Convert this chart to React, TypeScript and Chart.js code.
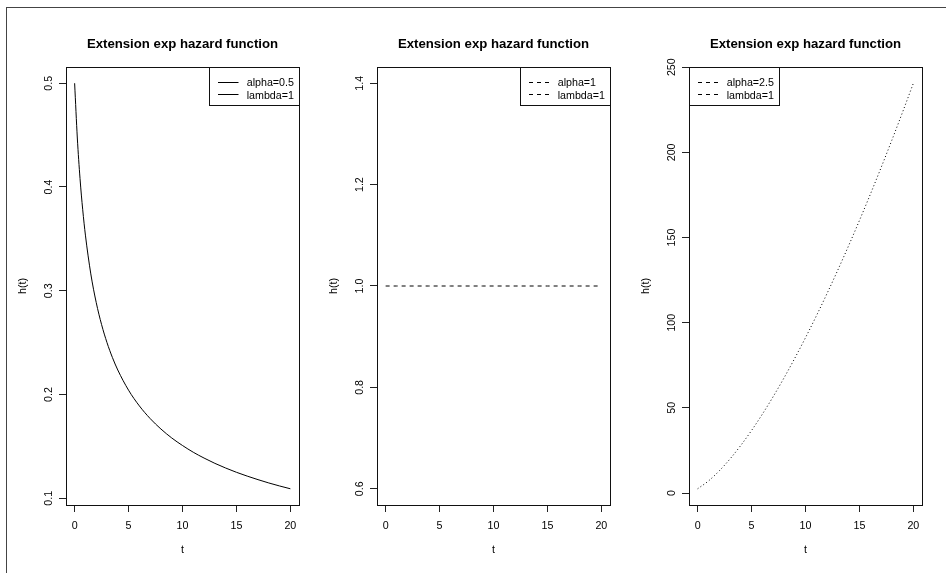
import React, { useEffect, useRef } from 'react';
import { Chart, registerables } from 'chart.js';

Chart.register(...registerables);

const FONT = '"Liberation Sans", Arial, Helvetica, sans-serif';
const TITLE = 'Extension exp hazard function';
const X_LABEL = 't';
const Y_LABEL = 'h(t)';

// Time grid for the decreasing hazard (denser near t = 0 where it drops fast)
const T_FINE = [0, 0.25, 0.5, 0.75, 1, 1.5, 2, 2.5, 3, 3.5, 4, 5, 6, 7, 8, 9, 10, 11, 12, 13, 14, 15, 16, 17, 18, 19, 20];
const H_ALPHA_05 = [
  0.5, 0.4472, 0.4082, 0.378, 0.3536, 0.3162, 0.2887, 0.2673, 0.25, 0.2357, 0.2236,
  0.2041, 0.189, 0.1768, 0.1667, 0.1581, 0.1508, 0.1443, 0.1387, 0.1336, 0.1291,
  0.125, 0.1213, 0.1179, 0.1147, 0.1118, 0.1091,
];

// Integer time grid for the constant and increasing hazards
const T_INT = [0, 1, 2, 3, 4, 5, 6, 7, 8, 9, 10, 11, 12, 13, 14, 15, 16, 17, 18, 19, 20];
const H_ALPHA_1 = [1, 1, 1, 1, 1, 1, 1, 1, 1, 1, 1, 1, 1, 1, 1, 1, 1, 1, 1, 1, 1];
const H_ALPHA_25 = [
  2.5, 7.07, 12.99, 20, 27.95, 36.74, 46.3, 56.57, 67.5, 79.06, 91.21, 103.92,
  117.18, 130.96, 145.24, 160, 175.23, 190.92, 207.05, 223.61, 240.58,
];

const X_TICKS = [0, 5, 10, 15, 20];
const Y_TICKS_1 = ['0.1', '0.2', '0.3', '0.4', '0.5'];
const Y_TICKS_2 = ['0.6', '0.8', '1.0', '1.2', '1.4'];
const Y_TICKS_3 = ['0', '50', '100', '150', '200', '250'];

const LEGEND_1 = ['alpha=0.5', 'lambda=1'];
const LEGEND_2 = ['alpha=1', 'lambda=1'];
const LEGEND_3 = ['alpha=2.5', 'lambda=1'];

// Base-graphics style axis range: data range widened by 4% on each side
function axisRange(values: number[]): [number, number] {
  let lo = Math.min(...values);
  let hi = Math.max(...values);
  if (hi === lo) {
    const d = Math.abs(lo) * 0.4 || 1;
    lo -= d;
    hi += d;
  }
  const pad = (hi - lo) * 0.04;
  return [lo - pad, hi + pad];
}

type PanelSpec = {
  t: number[];
  h: number[];
  dash: number[];
  legendDash: number[];
  legend: string[];
  legendSide: 'left' | 'right';
  yTicks: string[];
};

const PANELS: PanelSpec[] = [
  { t: T_FINE, h: H_ALPHA_05, dash: [], legendDash: [], legend: LEGEND_1, legendSide: 'right', yTicks: Y_TICKS_1 },
  { t: T_INT, h: H_ALPHA_1, dash: [4, 4], legendDash: [4, 4], legend: LEGEND_2, legendSide: 'right', yTicks: Y_TICKS_2 },
  { t: T_INT, h: H_ALPHA_25, dash: [1, 2.5], legendDash: [4, 4], legend: LEGEND_3, legendSide: 'left', yTicks: Y_TICKS_3 },
];

const CANVAS_W = 311;
const CANVAS_H = 573;
const PANEL_LEFTS = [0, 311, 623];

function Panel({ spec, left }: { spec: PanelSpec; left: number }) {
  const ref = useRef<HTMLCanvasElement>(null);

  useEffect(() => {
    if (!ref.current) return;
    const [xMin, xMax] = axisRange(spec.t);
    const [yMin, yMax] = axisRange(spec.h);
    const yTickValues = spec.yTicks.map(Number);

    const framePlugin = {
      id: 'frame',
      afterDraw(chart: any) {
        const { ctx, chartArea: a } = chart;
        ctx.save();

        // plot box
        ctx.strokeStyle = '#111';
        ctx.lineWidth = 1;
        ctx.setLineDash([]);
        const bx = Math.round(a.left) + 0.5;
        const by = Math.round(a.top) + 0.5;
        const bw = Math.round(a.right) - Math.round(a.left);
        const bh = Math.round(a.bottom) - Math.round(a.top);
        ctx.strokeRect(bx, by, bw, bh);

        // main title
        ctx.fillStyle = '#000';
        ctx.font = `bold 13.2px ${FONT}`;
        ctx.textAlign = 'center';
        ctx.textBaseline = 'alphabetic';
        ctx.fillText(TITLE, (a.left + a.right) / 2, a.top - 18.7);

        // y tick labels, written upward like base graphics
        const ys = chart.scales.y;
        ctx.font = `10.7px ${FONT}`;
        ys.ticks.forEach((tk: any) => {
          const i = yTickValues.indexOf(tk.value);
          const text = i >= 0 ? spec.yTicks[i] : String(tk.value);
          const py = ys.getPixelForValue(tk.value);
          ctx.save();
          ctx.translate(a.left - 14.5, py);
          ctx.rotate(-Math.PI / 2);
          ctx.textAlign = 'center';
          ctx.textBaseline = 'alphabetic';
          ctx.fillText(text, 0, 0);
          ctx.restore();
        });

        // legend
        const lw = 90;
        const lh = 38;
        const lx = spec.legendSide === 'right' ? Math.round(a.right) - lw : Math.round(a.left);
        const ly = Math.round(a.top);
        ctx.fillStyle = '#fff';
        ctx.fillRect(lx + 0.5, ly + 0.5, lw, lh);
        ctx.strokeStyle = '#111';
        ctx.strokeRect(lx + 0.5, ly + 0.5, lw, lh);
        const rows = [14.7, 27.3];
        spec.legend.forEach((label, k) => {
          const ry = ly + rows[k];
          ctx.strokeStyle = '#000';
          ctx.setLineDash(spec.legendDash);
          ctx.beginPath();
          ctx.moveTo(lx + 9, Math.round(ry) + 0.5);
          ctx.lineTo(lx + 29.5, Math.round(ry) + 0.5);
          ctx.stroke();
          ctx.setLineDash([]);
          ctx.fillStyle = '#000';
          ctx.font = `10.7px ${FONT}`;
          ctx.textAlign = 'left';
          ctx.textBaseline = 'alphabetic';
          ctx.fillText(label, lx + 37.7, ry + 4.6);
        });

        ctx.restore();
      },
    };

    const chart = new Chart(ref.current, {
      type: 'line',
      data: {
        datasets: [
          {
            data: spec.t.map((t, i) => ({ x: t, y: spec.h[i] })),
            borderColor: '#000',
            borderWidth: 1,
            borderDash: spec.dash,
            pointRadius: 0,
            fill: false,
            cubicInterpolationMode: 'monotone',
          },
        ],
      },
      options: {
        animation: false,
        responsive: false,
        devicePixelRatio: 1,
        events: [],
        layout: { padding: { left: 0, right: CANVAS_W - 299, top: 67, bottom: 0 } },
        plugins: {
          legend: { display: false },
          title: { display: false },
          tooltip: { enabled: false },
        },
        scales: {
          x: {
            type: 'linear',
            position: 'bottom',
            min: xMin,
            max: xMax,
            bounds: 'data',
            afterBuildTicks: (scale: any) => {
              scale.ticks = X_TICKS.map((v) => ({ value: v }));
            },
            afterFit: (scale: any) => {
              scale.height = CANVAS_H - 505;
            },
            ticks: {
              autoSkip: false,
              maxRotation: 0,
              minRotation: 0,
              padding: 7.8,
              color: '#000',
              font: { family: FONT, size: 10.7 },
            },
            grid: {
              display: true,
              drawOnChartArea: false,
              drawTicks: true,
              tickLength: 7,
              color: '#222',
              lineWidth: 1,
            },
            border: { display: false },
            title: {
              display: true,
              text: X_LABEL,
              color: '#000',
              font: { family: FONT, size: 10.7 },
              padding: { top: 0, bottom: 16.3 },
            },
          },
          y: {
            type: 'linear',
            position: 'left',
            min: yMin,
            max: yMax,
            bounds: 'data',
            afterBuildTicks: (scale: any) => {
              scale.ticks = yTickValues.map((v) => ({ value: v }));
            },
            afterFit: (scale: any) => {
              scale.width = 66;
            },
            ticks: { display: false },
            grid: {
              display: true,
              drawOnChartArea: false,
              drawTicks: true,
              tickLength: 7,
              color: '#222',
              lineWidth: 1,
            },
            border: { display: false },
            title: {
              display: true,
              text: Y_LABEL,
              color: '#000',
              font: { family: FONT, size: 10.7 },
              padding: { top: 16.2, bottom: 0 },
            },
          },
        },
      },
      plugins: [framePlugin],
    } as any);

    return () => chart.destroy();
  }, [spec]);

  return (
    <canvas
      ref={ref}
      width={CANVAS_W}
      height={CANVAS_H}
      style={{ position: 'absolute', left, top: 0, width: CANVAS_W, height: CANVAS_H }}
    />
  );
}

export default function App() {
  return (
    <div
      style={{
        position: 'absolute',
        left: 0,
        top: 0,
        width: 946,
        height: 573,
        background: '#fff',
        overflow: 'hidden',
      }}
    >
      <div
        style={{
          position: 'absolute',
          left: 6,
          top: 7,
          width: 940,
          height: 566,
          borderTop: '1.5px solid #444',
          borderLeft: '1.5px solid #444',
          boxSizing: 'border-box',
        }}
      />
      {PANELS.map((spec, i) => (
        <Panel key={i} spec={spec} left={PANEL_LEFTS[i]} />
      ))}
    </div>
  );
}
